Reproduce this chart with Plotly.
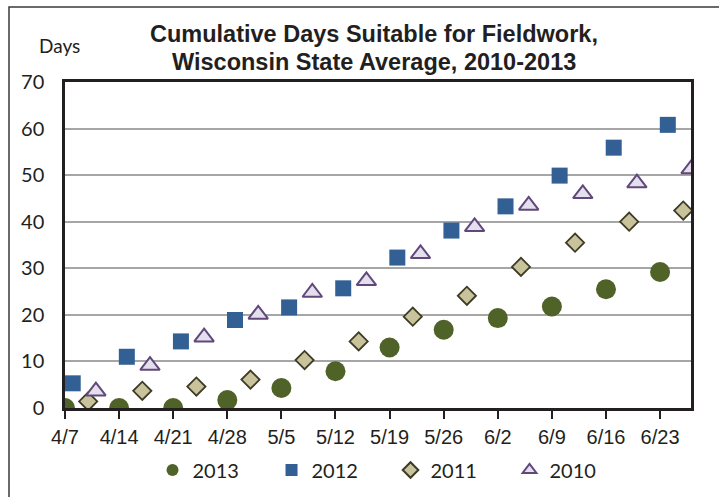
import plotly.graph_objects as go

# Week-ending dates (each year), plotted on a common month/day calendar
dates_2013 = ["2013-04-07", "2013-04-14", "2013-04-21", "2013-04-28", "2013-05-05", "2013-05-12",
              "2013-05-19", "2013-05-26", "2013-06-02", "2013-06-09", "2013-06-16", "2013-06-23"]
dates_2012 = ["2012-04-08", "2012-04-15", "2012-04-22", "2012-04-29", "2012-05-06", "2012-05-13",
              "2012-05-20", "2012-05-27", "2012-06-03", "2012-06-10", "2012-06-17", "2012-06-24"]
dates_2011 = ["2011-04-10", "2011-04-17", "2011-04-24", "2011-05-01", "2011-05-08", "2011-05-15",
              "2011-05-22", "2011-05-29", "2011-06-05", "2011-06-12", "2011-06-19", "2011-06-26"]
dates_2010 = ["2010-04-11", "2010-04-18", "2010-04-25", "2010-05-02", "2010-05-09", "2010-05-16",
              "2010-05-23", "2010-05-30", "2010-06-06", "2010-06-13", "2010-06-20", "2010-06-27"]

days_2013 = [0, 0, 0, 1.7, 4.3, 7.9, 13.0, 16.8, 19.3, 21.8, 25.5, 29.2]
days_2012 = [5.3, 11.0, 14.3, 18.9, 21.6, 25.7, 32.3, 38.1, 43.3, 49.9, 55.9, 60.8]
days_2011 = [1.4, 3.7, 4.6, 6.1, 10.3, 14.3, 19.6, 24.1, 30.3, 35.5, 40.0, 42.4]
days_2010 = [3.6, 9.1, 15.2, 20.1, 24.8, 27.3, 33.1, 38.9, 43.5, 46.0, 48.3, 51.3]

x_ticks = ["2013-04-07", "2013-04-14", "2013-04-21", "2013-04-28", "2013-05-05", "2013-05-12",
           "2013-05-19", "2013-05-26", "2013-06-02", "2013-06-09", "2013-06-16", "2013-06-23"]
x_tick_labels = ["4/7", "4/14", "4/21", "4/28", "5/5", "5/12", "5/19", "5/26", "6/2", "6/9", "6/16", "6/23"]
y_ticks = [0, 10, 20, 30, 40, 50, 60, 70]


def to_common(dates):
    return ["2013" + d[4:] for d in dates]


fig = go.Figure()
fig.add_trace(go.Scatter(x=to_common(dates_2013), y=days_2013, mode="markers", name="2013",
                         marker=dict(symbol="circle", size=20, color="#4f6228")))
fig.add_trace(go.Scatter(x=to_common(dates_2012), y=days_2012, mode="markers", name="2012",
                         marker=dict(symbol="square", size=16, color="#336094")))
fig.add_trace(go.Scatter(x=to_common(dates_2011), y=days_2011, mode="markers", name="2011",
                         marker=dict(symbol="diamond", size=14, color="#c9c39b",
                                     line=dict(color="#3d3a26", width=1.8))))
fig.add_trace(go.Scatter(x=to_common(dates_2010), y=days_2010, mode="markers", name="2010",
                         marker=dict(symbol="triangle-up", size=17, color="#e4dfec",
                                     line=dict(color="#60497a", width=2))))

fig.update_layout(
    width=719, height=497,
    margin=dict(l=65, r=28, t=82, b=89, autoexpand=False),
    paper_bgcolor="white", plot_bgcolor="white",
    showlegend=True,
    legend=dict(orientation="h", x=0.52, xanchor="center",
                yref="container", y=1 - 470 / 497, yanchor="middle",
                font=dict(family="Lato, Open Sans, sans-serif", size=20, color="#231f20"),
                entrywidth=74, entrywidthmode="pixels", itemsizing="constant",
                tracegroupgap=0),
    xaxis=dict(type="date", range=["2013-04-07", "2013-06-27"],
               tickvals=x_ticks, ticktext=x_tick_labels,
               ticks="outside", ticklen=8, tickwidth=1.5, tickcolor="#231f20",
               ticklabelstandoff=1,
               showline=True, linecolor="#231f20", linewidth=2.5, mirror=True,
               showgrid=False, zeroline=False,
               tickfont=dict(family="Liberation Sans, Arial, sans-serif", size=20, color="#231f20")),
    yaxis=dict(range=[0, 70], tickvals=y_ticks,
               showline=True, linecolor="#231f20", linewidth=2.5, mirror=True,
               showgrid=True, gridcolor="#a6a6a6", gridwidth=2, zeroline=False,
               ticks="", ticklabelstandoff=14,
               tickfont=dict(family="Lato, Open Sans, sans-serif", size=20, color="#231f20")),
    annotations=[
        dict(text="<b>Cumulative Days Suitable for Fieldwork,</b>", xref="paper", yref="paper",
             x=(374 - 65) / 626, y=(408 - 34) / 326, xanchor="center", yanchor="middle",
             showarrow=False, font=dict(family="Liberation Sans, Arial, sans-serif", size=23.5, color="#231f20")),
        dict(text="<b>Wisconsin State Average, 2010-2013</b>", xref="paper", yref="paper",
             x=(374 - 65) / 626, y=(408 - 62) / 326, xanchor="center", yanchor="middle",
             showarrow=False, font=dict(family="Liberation Sans, Arial, sans-serif", size=23.5, color="#231f20")),
        dict(text="Days", xref="paper", yref="paper",
             x=(59 - 65) / 626, y=(408 - 45) / 326, xanchor="center", yanchor="middle",
             showarrow=False, font=dict(family="Lato, Open Sans, sans-serif", size=19, color="#231f20")),
    ],
    shapes=[
        dict(type="rect", xref="paper", yref="paper",
             x0=(9 - 65) / 626, x1=(740 - 65) / 626,
             y0=(408 - 7) / 326, y1=(408 - 520) / 326,
             line=dict(color="#3a3a3a", width=1.5), fillcolor="rgba(0,0,0,0)", layer="below"),
    ],
)

fig.write_html("out.html", config={"displayModeBar": False},
               post_script="document.body.style.margin='0';")
